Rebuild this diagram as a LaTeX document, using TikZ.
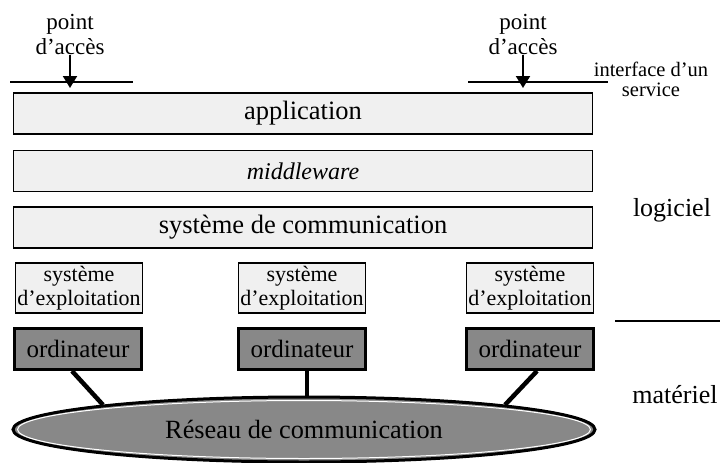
\documentclass[tikz,border=0pt]{standalone}
\usepackage{fontspec}
\setmainfont{Liberation Serif}
\usetikzlibrary{shapes.geometric,arrows.meta}
\definecolor{lightfill}{RGB}{240,240,240}
\definecolor{darkfill}{RGB}{136,136,136}
\begin{document}
\begin{tikzpicture}[x=1pt,y=-1pt,
  layer/.style={draw,line width=1.5pt,fill=lightfill,minimum width=579pt,minimum height=41pt,inner sep=0pt,font=\fontsize{26.5}{28}\selectfont},
  osbox/.style={draw,line width=1.5pt,fill=lightfill,minimum width=127pt,minimum height=50pt,inner sep=0pt,align=center,font=\fontsize{22}{24}\selectfont},
  hwbox/.style={draw,line width=3pt,fill=darkfill,minimum width=127pt,minimum height=41pt,inner sep=0pt,font=\fontsize{25}{27}\selectfont},
  lbl/.style={align=center,inner sep=0pt,font=\fontsize{23}{25}\selectfont},
  side/.style={inner sep=0pt,font=\fontsize{26}{28}\selectfont},
  rule/.style={line width=2pt},
  access/.style={line width=2pt,-{Triangle[width=14pt,length=12pt]}},
  link/.style={line width=4.5pt}]
\useasboundingbox (0,0) rectangle (720,463);

% layers
\node[layer] (app) at (303,113.5) {application};
\node[layer] (mid) at (303,171) {\fontsize{24}{26}\selectfont\itshape middleware};
\node[layer] (com) at (303,227.5) {système de communication};

% operating systems
\node[osbox] (os1) at (79,288) {système\\d’exploitation};
\node[osbox] (os2) at (302,288) {système\\d’exploitation};
\node[osbox] (os3) at (530,288) {système\\d’exploitation};

% computers
\node[hwbox] (hw1) at (78,349) {ordinateur};
\node[hwbox] (hw2) at (302,349) {ordinateur};
\node[hwbox] (hw3) at (530,349) {ordinateur};

% network
\node[ellipse,draw,line width=3pt,fill=darkfill,minimum width=582pt,minimum height=65pt,inner sep=0pt,
      font=\fontsize{26.3}{28}\selectfont] (net) at (304,429.5) {Réseau de communication};
\draw[white,line width=1pt] (net.center) ellipse [x radius=286.5pt,y radius=29pt];

\draw[link] ([xshift=-6pt]hw1.south) -- (net.173);
\draw[link] ([xshift=5pt]hw2.south) -- ([xshift=5pt]hw2.south |- net.north);
\draw[link] ([xshift=7pt]hw3.south) -- (net.7);

% access points
\node[lbl] (pa1) at (70,34.5) {point\\d’accès};
\node[lbl] (pa2) at (523,34.5) {point\\d’accès};
\coordinate (l1a) at (10,82);
\coordinate (l1b) at (133,82);
\coordinate (l2a) at (468,82);
\coordinate (l2b) at (608,82);
\draw[rule] (l1a) -- (l1b);
\draw[rule] (l2a) -- (l2b);
\draw[access] (pa1.south) -- (pa1.south |- 0,88);
\draw[access] (pa2.south) -- (pa2.south |- 0,88);

\node[align=center,inner sep=0pt,font=\fontsize{20.5}{20}\selectfont] (iface) at (651,79.5) {interface d’un\\service};

% side labels
\node[side] (soft) at (672,210) {logiciel};
\node[side] (hard) at (675,395) {matériel};
\coordinate (l3a) at (615,321);
\coordinate (l3b) at (720,321);
\draw[rule] (l3a) -- (l3b);
\end{tikzpicture}
\end{document}
